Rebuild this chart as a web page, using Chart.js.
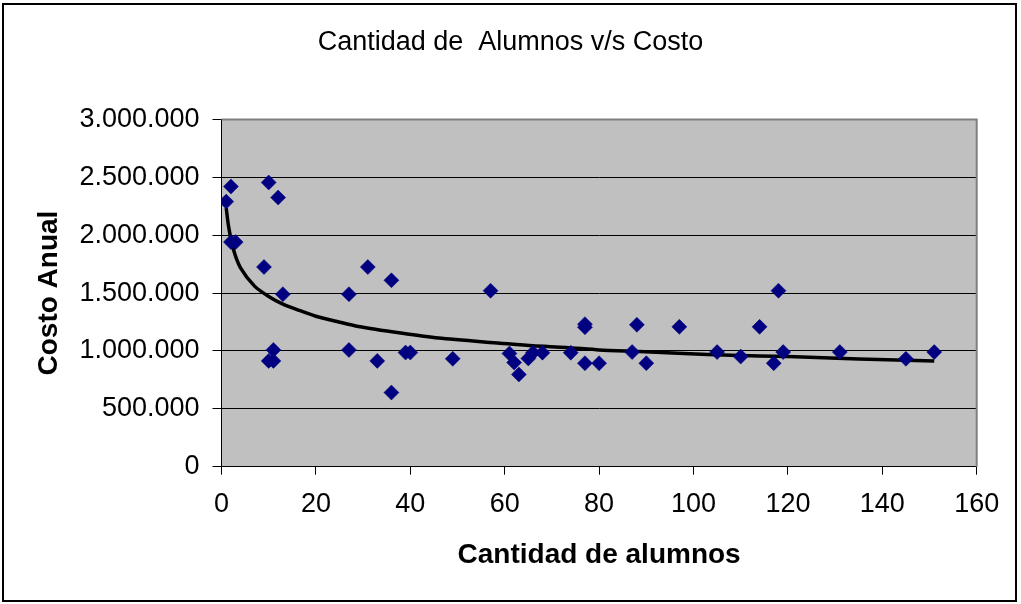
<!DOCTYPE html>
<html>
<head>
<meta charset="utf-8">
<title>Cantidad de Alumnos v/s Costo</title>
<script src="https://cdn.jsdelivr.net/npm/chart.js@4.4.1/dist/chart.umd.min.js"></script>
<style>
  html, body { margin: 0; padding: 0; background: #ffffff; }
  #wrap { width: 1021px; height: 604px; }
</style>
</head>
<body>
<div id="wrap"><canvas id="chart" width="1021" height="604"></canvas></div>
<script>
// Students per school (x) and yearly cost (y)
const alumnos = [1, 2, 10, 12, 2, 3, 9, 13, 31, 36, 27, 11, 10, 11, 27, 33, 36, 39, 40, 49,
                 57, 61, 62, 63, 65, 66, 68, 74, 77, 77, 77, 80, 87, 88, 90, 97, 105, 110,
                 114, 117, 118, 119, 131, 145, 151];
const costoAnual = [2290000, 2420000, 2455000, 2325000, 1940000, 1940000, 1725000, 1490000,
                    1725000, 1610000, 1490000, 1009000, 914000, 914000, 1009000, 914000,
                    640000, 986000, 986000, 932000, 1520000, 978000, 900000, 797000, 935000,
                    985000, 985000, 985000, 1231000, 1205000, 894000, 894000, 990000, 1226000,
                    894000, 1208000, 990000, 951000, 1208000, 894000, 1520000, 990000, 990000,
                    932000, 990000];

// Fitted trend curve, sampled along its length
const tendenciaX = [1, 1.5, 2.5, 4, 7, 10, 13, 16.5, 20, 24.5, 29, 38, 46, 59, 66, 73, 80,
                    88.5, 98, 108, 120, 135, 151];
const tendenciaY = [2235000, 2076000, 1880000, 1720000, 1560000, 1471000, 1405000, 1350000,
                    1300000, 1254000, 1211000, 1154000, 1111000, 1067000, 1044000, 1030000,
                    1009000, 995000, 978000, 962000, 951000, 930000, 914000];

// Axis ticks
const xTicks = [0, 20, 40, 60, 80, 100, 120, 140, 160];
const yTicks = [0, 500000, 1000000, 1500000, 2000000, 2500000, 3000000];

const FONT = '"Liberation Sans", Arial, Helvetica, sans-serif';

function miles(v) {
  return String(Math.round(v)).replace(/\B(?=(\d{3})+(?!\d))/g, '.');
}

const puntos = alumnos.map((x, i) => ({ x: x, y: costoAnual[i] }));
const tendencia = tendenciaX.map((x, i) => ({ x: x, y: tendenciaY[i] }));

// Grey plot area, grey top/right edge and the outer frame
const marco = {
  id: 'marco',
  beforeDraw(chart) {
    const { ctx, chartArea: a } = chart;
    ctx.save();
    ctx.fillStyle = '#ffffff';
    ctx.fillRect(0, 0, chart.width, chart.height);
    ctx.fillStyle = '#c0c0c0';
    ctx.fillRect(a.left, a.top, a.right - a.left, a.bottom - a.top);
    ctx.restore();
  },
  beforeDatasetsDraw(chart) {
    const { ctx, chartArea: a } = chart;
    ctx.save();
    ctx.strokeStyle = '#808080';
    ctx.lineWidth = 2;
    ctx.beginPath();
    ctx.moveTo(a.left, a.top);
    ctx.lineTo(a.right, a.top);
    ctx.lineTo(a.right, a.bottom);
    ctx.stroke();
    ctx.restore();
  },
  afterDraw(chart) {
    const { ctx } = chart;
    ctx.save();
    ctx.strokeStyle = '#000000';
    ctx.lineWidth = 2;
    ctx.strokeRect(3, 4, 1013, 597);
    ctx.restore();
  }
};

new Chart(document.getElementById('chart'), {
  type: 'scatter',
  data: {
    datasets: [
      {
        label: 'Costo',
        data: puntos,
        pointStyle: 'rectRot',
        pointRadius: 7.5,
        pointHoverRadius: 7.5,
        backgroundColor: '#000080',
        borderColor: '#000080',
        borderWidth: 0.5,
        showLine: false
      },
      {
        label: 'Tendencia',
        data: tendencia,
        showLine: true,
        borderColor: '#000000',
        borderWidth: 3.5,
        pointRadius: 0,
        tension: 0.25,
        fill: false
      }
    ]
  },
  options: {
    responsive: false,
    animation: false,
    devicePixelRatio: 1,
    layout: { padding: 0 },
    plugins: {
      legend: { display: false },
      tooltip: { enabled: false },
      title: {
        display: true,
        text: 'Cantidad de  Alumnos v/s Costo',
        color: '#000000',
        font: { family: FONT, size: 27, weight: 'normal', lineHeight: 1.2 },
        padding: { top: 26, bottom: 61 }
      }
    },
    scales: {
      x: {
        type: 'linear',
        min: 0,
        max: 160,
        afterBuildTicks(scale) { scale.ticks = xTicks.map(v => ({ value: v })); },
        afterFit(scale) {
          scale.height = 137.3;
          scale.paddingLeft = 0;
          scale.paddingRight = 44.3;
        },
        grid: {
          display: true,
          drawOnChartArea: false,
          drawTicks: true,
          tickLength: 8,
          color: '#000000',
          lineWidth: 1
        },
        border: { display: true, color: '#000000', width: 1 },
        ticks: {
          color: '#000000',
          font: { family: FONT, size: 27 },
          padding: 14,
          maxRotation: 0,
          autoSkip: false
        },
        title: {
          display: true,
          text: 'Cantidad de alumnos',
          color: '#000000',
          font: { family: FONT, size: 28, weight: 'bold', lineHeight: 1.2 },
          padding: { top: 0, bottom: 31.7 }
        }
      },
      y: {
        type: 'linear',
        min: 0,
        max: 3000000,
        afterBuildTicks(scale) { scale.ticks = yTicks.map(v => ({ value: v })); },
        afterFit(scale) { scale.width = 221.5; },
        grid: {
          display: true,
          drawOnChartArea: true,
          drawTicks: true,
          tickLength: 9,
          color: '#000000',
          lineWidth: 1
        },
        border: { display: true, color: '#000000', width: 1 },
        ticks: {
          color: '#000000',
          font: { family: FONT, size: 27 },
          padding: 13,
          autoSkip: false,
          callback: v => miles(v)
        },
        title: {
          display: true,
          text: 'Costo Anual',
          color: '#000000',
          font: { family: FONT, size: 28, weight: 'bold', lineHeight: 1.2 },
          padding: { top: 32, bottom: 0 }
        }
      }
    }
  },
  plugins: [marco]
});
</script>
</body>
</html>
